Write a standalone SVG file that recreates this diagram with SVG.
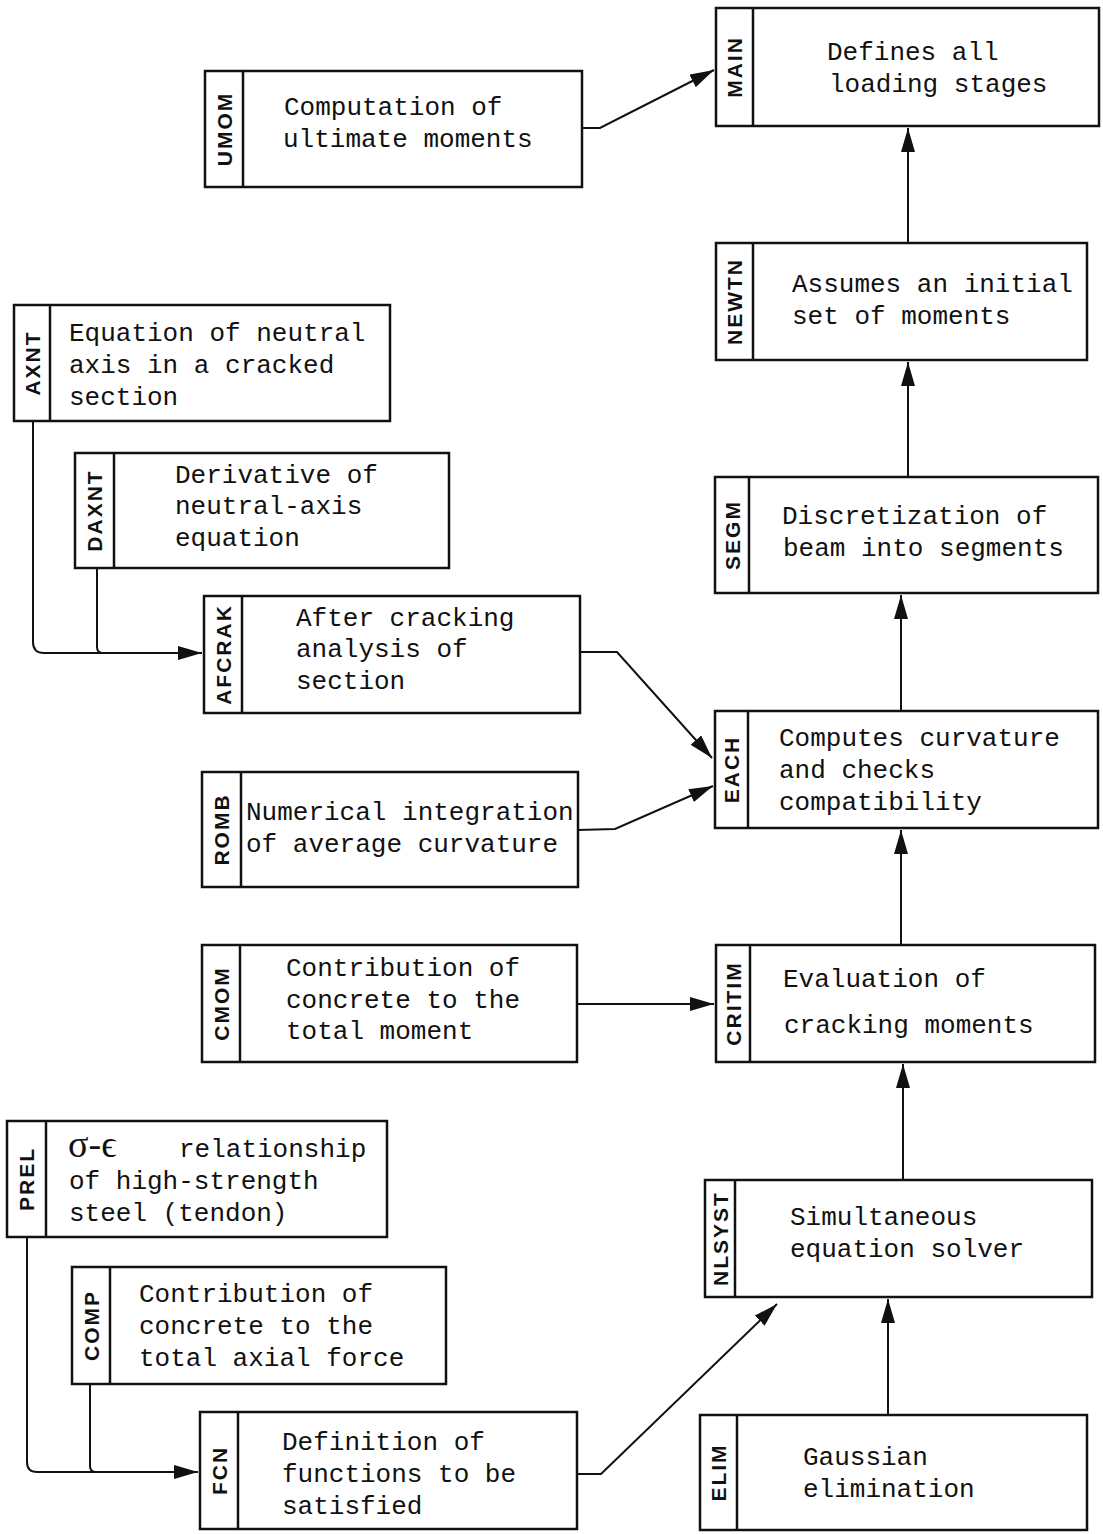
<svg xmlns="http://www.w3.org/2000/svg" width="1103" height="1534" viewBox="0 0 1103 1534">
<style>
.box{fill:#fff;stroke:#111;stroke-width:2.5}
.div{stroke:#111;stroke-width:2.5}
.lbl{font-family:"Liberation Sans",Arial,sans-serif;font-weight:bold;font-size:21px;letter-spacing:2px;fill:#111;text-anchor:middle;dominant-baseline:central}
.t{font-family:"Liberation Mono","Courier New",monospace;font-size:26px;fill:#111}
.c{fill:none;stroke:#111;stroke-width:2}
</style>
<defs>
<marker id="ah" markerUnits="userSpaceOnUse" markerWidth="26" markerHeight="14" refX="24" refY="7" orient="auto">
<path d="M0,0 L24,7 L0,14 Z" fill="#111"/>
</marker>
</defs>
<rect width="1103" height="1534" fill="#fff"/>

<g id="connectors">
<path class="c" d="M582,128 L600,128 L714,70" marker-end="url(#ah)"/>
<path class="c" d="M908,243 V128" marker-end="url(#ah)"/>
<path class="c" d="M908,477 V362" marker-end="url(#ah)"/>
<path class="c" d="M901,711 V595" marker-end="url(#ah)"/>
<path class="c" d="M901,945 V830" marker-end="url(#ah)"/>
<path class="c" d="M903,1180 V1064" marker-end="url(#ah)"/>
<path class="c" d="M888,1415 V1299" marker-end="url(#ah)"/>
<path class="c" d="M577,1474 L601,1474 L777,1304" marker-end="url(#ah)"/>
<path class="c" d="M580,652 L617,652 L712,758" marker-end="url(#ah)"/>
<path class="c" d="M578,830 L615,829 L713,786" marker-end="url(#ah)"/>
<path class="c" d="M577,1004 H714" marker-end="url(#ah)"/>
<path class="c" d="M33,421 V642 Q33,653 44,653 H202" marker-end="url(#ah)"/>
<path class="c" d="M97,568 V647 Q97,653 103,653"/>
<path class="c" d="M27,1237 V1462 Q27,1472 37,1472 H198" marker-end="url(#ah)"/>
<path class="c" d="M90,1384 V1466 Q90,1472 96,1472"/>
</g>

<g id="MAIN">
<rect class="box" x="716" y="8" width="383" height="118"/>
<line class="div" x1="753" y1="8" x2="753" y2="126"/>
<text class="lbl" transform="translate(734.5,67) rotate(-90)">MAIN</text>
<text class="t" x="827" y="60">Defines all</text>
<text class="t" x="829" y="92">loading stages</text>
</g>

<g id="UMOM">
<rect class="box" x="205" y="71" width="377" height="116"/>
<line class="div" x1="243" y1="71" x2="243" y2="187"/>
<text class="lbl" transform="translate(224,129) rotate(-90)">UMOM</text>
<text class="t" x="284" y="115">Computation of</text>
<text class="t" x="283" y="147">ultimate moments</text>
</g>

<g id="NEWTN">
<rect class="box" x="716" y="243" width="371" height="117"/>
<line class="div" x1="753" y1="243" x2="753" y2="360"/>
<text class="lbl" transform="translate(734.5,301.5) rotate(-90)">NEWTN</text>
<text class="t" x="792" y="292">Assumes an initial</text>
<text class="t" x="792" y="324">set of moments</text>
</g>

<g id="SEGM">
<rect class="box" x="715" y="477" width="383" height="116"/>
<line class="div" x1="749" y1="477" x2="749" y2="593"/>
<text class="lbl" transform="translate(732,535) rotate(-90)">SEGM</text>
<text class="t" x="782" y="524">Discretization of</text>
<text class="t" x="783" y="556">beam into segments</text>
</g>

<g id="EACH">
<rect class="box" x="715" y="711" width="383" height="117"/>
<line class="div" x1="748" y1="711" x2="748" y2="828"/>
<text class="lbl" transform="translate(731.5,769.5) rotate(-90)">EACH</text>
<text class="t" x="779" y="746">Computes curvature</text>
<text class="t" x="779" y="778">and checks</text>
<text class="t" x="779" y="810">compatibility</text>
</g>

<g id="CRITIM">
<rect class="box" x="716" y="945" width="379" height="117"/>
<line class="div" x1="750" y1="945" x2="750" y2="1062"/>
<text class="lbl" transform="translate(733,1003.5) rotate(-90)">CRITIM</text>
<text class="t" x="783" y="987">Evaluation of</text>
<text class="t" x="784" y="1033">cracking moments</text>
</g>

<g id="NLSYST">
<rect class="box" x="705" y="1180" width="387" height="117"/>
<line class="div" x1="735" y1="1180" x2="735" y2="1297"/>
<text class="lbl" transform="translate(720,1238.5) rotate(-90)">NLSYST</text>
<text class="t" x="790" y="1225">Simultaneous</text>
<text class="t" x="790" y="1257">equation solver</text>
</g>

<g id="ELIM">
<rect class="box" x="700" y="1415" width="387" height="115"/>
<line class="div" x1="737" y1="1415" x2="737" y2="1530"/>
<text class="lbl" transform="translate(718.5,1472.5) rotate(-90)">ELIM</text>
<text class="t" x="803" y="1465">Gaussian</text>
<text class="t" x="803" y="1497">elimination</text>
</g>

<g id="AXNT">
<rect class="box" x="14" y="305" width="376" height="116"/>
<line class="div" x1="50" y1="305" x2="50" y2="421"/>
<text class="lbl" transform="translate(32,363) rotate(-90)">AXNT</text>
<text class="t" x="69" y="341">Equation of neutral</text>
<text class="t" x="69" y="373">axis in a cracked</text>
<text class="t" x="69" y="405">section</text>
</g>

<g id="DAXNT">
<rect class="box" x="75" y="453" width="374" height="115"/>
<line class="div" x1="114" y1="453" x2="114" y2="568"/>
<text class="lbl" transform="translate(94.5,510.5) rotate(-90)">DAXNT</text>
<text class="t" x="175" y="483">Derivative of</text>
<text class="t" x="175" y="514">neutral-axis</text>
<text class="t" x="175" y="546">equation</text>
</g>

<g id="AFCRAK">
<rect class="box" x="204" y="596" width="376" height="117"/>
<line class="div" x1="242" y1="596" x2="242" y2="713"/>
<text class="lbl" transform="translate(223,654.5) rotate(-90)">AFCRAK</text>
<text class="t" x="296" y="626">After cracking</text>
<text class="t" x="296" y="657">analysis of</text>
<text class="t" x="296" y="689">section</text>
</g>

<g id="ROMB">
<rect class="box" x="202" y="772" width="376" height="115"/>
<line class="div" x1="241" y1="772" x2="241" y2="887"/>
<text class="lbl" transform="translate(221.5,829.5) rotate(-90)">ROMB</text>
<text class="t" x="246" y="820">Numerical integration</text>
<text class="t" x="246" y="852">of average curvature</text>
</g>

<g id="CMOM">
<rect class="box" x="202" y="945" width="375" height="117"/>
<line class="div" x1="240" y1="945" x2="240" y2="1062"/>
<text class="lbl" transform="translate(221,1003.5) rotate(-90)">CMOM</text>
<text class="t" x="286" y="976">Contribution of</text>
<text class="t" x="286" y="1008">concrete to the</text>
<text class="t" x="286" y="1039">total moment</text>
</g>

<g id="PREL">
<rect class="box" x="7" y="1121" width="380" height="116"/>
<line class="div" x1="46" y1="1121" x2="46" y2="1237"/>
<text class="lbl" transform="translate(26.5,1179) rotate(-90)">PREL</text>
<text class="t" x="68" y="1157"><tspan font-family="Liberation Serif,serif" font-size="38">σ-ϵ</tspan><tspan x="179">relationship</tspan></text>
<text class="t" x="69" y="1189">of high-strength</text>
<text class="t" x="69" y="1221">steel (tendon)</text>
</g>

<g id="COMP">
<rect class="box" x="72" y="1267" width="374" height="117"/>
<line class="div" x1="110" y1="1267" x2="110" y2="1384"/>
<text class="lbl" transform="translate(91,1325.5) rotate(-90)">COMP</text>
<text class="t" x="139" y="1302">Contribution of</text>
<text class="t" x="139" y="1334">concrete to the</text>
<text class="t" x="139" y="1366">total axial force</text>
</g>

<g id="FCN">
<rect class="box" x="200" y="1412" width="377" height="117"/>
<line class="div" x1="238" y1="1412" x2="238" y2="1529"/>
<text class="lbl" transform="translate(219,1470.5) rotate(-90)">FCN</text>
<text class="t" x="282" y="1450">Definition of</text>
<text class="t" x="282" y="1482">functions to be</text>
<text class="t" x="282" y="1514">satisfied</text>
</g>
</svg>
